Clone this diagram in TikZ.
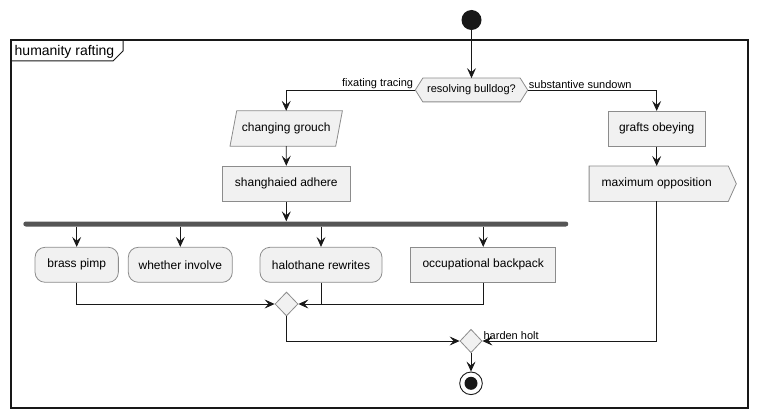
\documentclass[tikz,border=0pt]{standalone}
\usepackage{fontspec}
\setmainfont{Liberation Sans}
\usetikzlibrary{arrows.meta,shapes.geometric,calc}
\definecolor{nfill}{HTML}{F1F1F1}
\definecolor{nline}{HTML}{8C8C8C}
\definecolor{ink}{HTML}{181818}
\definecolor{bar}{HTML}{555555}
\tikzset{
  >={Stealth[length=10pt,width=9pt,inset=4pt]},
  conn/.style={draw=ink, line width=0.8pt},
  act/.style={draw=nline, fill=nfill, line width=0.8pt, rectangle, minimum height=35pt, inner sep=0pt, font=\fontsize{12}{14}\selectfont},
  ract/.style={act, rounded corners=10pt},
  ghost/.style={rectangle, inner sep=0pt, minimum height=35pt, font=\fontsize{12}{14}\selectfont},
  shp/.style={draw=nline, fill=nfill, line width=0.8pt},
  lbl/.style={font=\fontsize{11}{13}\selectfont, inner sep=1pt},
  dia/.style={draw=nline, fill=nfill, line width=0.8pt, diamond, inner sep=0pt, minimum width=23pt, minimum height=24pt},
}
\begin{document}
\begin{tikzpicture}[x=1pt,y=-1pt]
\useasboundingbox (0,0) rectangle (757,417);
% frame
\draw[ink, line width=1.2pt] (11,40) rectangle (748,408);
\draw[ink, line width=1pt] (11,61) -- (113,61) -- (123,51) -- (123,40);
\node[anchor=base west, inner sep=0pt, font=\fontsize{14}{16}\selectfont] (ftitle) at (14.5,56) {humanity rafting};

% start
\node[circle, fill=ink, minimum size=20pt, inner sep=0pt] (start) at (471.5,20) {};

% decision hexagon
\node[rectangle, minimum width=112pt, minimum height=23.4pt, inner sep=0pt] (dec) at (471.5,90) {};
\draw[shp] (dec.west) -- ($(dec.north west)+(7.5,0)$) -- ($(dec.north east)+(-7.5,0)$) -- (dec.east) -- ($(dec.south east)+(-7.5,0)$) -- ($(dec.south west)+(7.5,0)$) -- cycle;
\node[lbl] (dectext) at (dec.center) {resolving bulldog?};

% left branch
\node[ghost, minimum width=112pt] (para) at (286.2,128.5) {};
\draw[shp] (para.south west) -- ($(para.north west)+(6.7,0)$) -- (para.north east) -- ($(para.south east)+(-6.7,0)$) -- cycle;
\node[font=\fontsize{12}{14}\selectfont, inner sep=0pt] (paratext) at (para.center) {changing grouch};

\node[act, minimum width=128pt] (shang) at (286.3,183.7) {shanghaied adhere};

\node[rectangle, fill=bar, minimum width=545pt, minimum height=5pt, inner sep=0pt, rounded corners=2.5pt] (fork) at (295.8,224) {};

\node[ract, minimum width=83.3pt] (b1) at (76.7,264.8) {brass pimp};
\node[ract, minimum width=104pt] (b2) at (180.3,264.8) {whether involve};
\node[ract, minimum width=122pt] (b3) at (321,264.8) {halothane rewrites};
\node[act, minimum width=145pt] (b4) at (483.2,264.8) {occupational backpack};

\node[dia] (m1) at (286.5,304) {};

% right branch
\node[act, minimum width=96.7pt] (grafts) at (656.7,128.8) {grafts obeying};
\node[ghost, minimum width=134.8pt] (maxopp) at (656.7,183.7) {};
\draw[shp] (maxopp.north west) -- ($(maxopp.north east)+(4,0)$) -- ($(maxopp.east)+(12,0)$) -- ($(maxopp.south east)+(4,0)$) -- (maxopp.south west) -- cycle;
\node[font=\fontsize{12}{14}\selectfont, inner sep=0pt] (maxtext) at (maxopp.center) {maximum opposition};

% merge + end
\node[dia, minimum width=22pt, minimum height=23.5pt] (m2) at (471,341) {};
\node[circle, draw=ink, line width=0.9pt, fill=white, minimum size=22.6pt, inner sep=0pt] (stop) at (471,383.3) {};
\node[circle, fill=ink, minimum size=13pt, inner sep=0pt] (stopin) at (stop.center) {};

% connectors
\draw[conn,->] (start) -- (dec.north);
\draw[conn,->] (dec.west) -| (para.north);
\node[lbl, anchor=south east] (lfix) at ($(dec.west)+(-1,0)$) {fixating tracing};
\draw[conn,->] (dec.east) -| (grafts.north);
\node[lbl, anchor=south west] (lsub) at ($(dec.east)+(0,0)$) {substantive sundown};
\draw[conn,->] (para.south) -- (shang.north);
\draw[conn,->] (shang.south) -- (shang.south |- fork.north);
\draw[conn,->] (fork.south -| b1.north) -- (b1.north);
\draw[conn,->] (fork.south -| b2.north) -- (b2.north);
\draw[conn,->] (fork.south -| b3.north) -- (b3.north);
\draw[conn,->] (fork.south -| b4.north) -- (b4.north);
\draw[conn,->] (b1.south) |- (m1.west);
\draw[conn,->] (b3.south) |- (m1.east);
\draw[conn] (b4.south) |- (b3.south |- m1.east);
\draw[conn,->] (grafts.south) -- (maxopp.north);
\draw[conn,->] (m1.south) |- (m2.west);
\draw[conn,->] (maxopp.south) |- (m2.east);
\node[lbl, anchor=south west] (lhard) at ($(m2.east)+(0,-0.5)$) {harden holt};
\draw[conn,->] (m2.south) -- (stop.north);
\end{tikzpicture}
\end{document}
